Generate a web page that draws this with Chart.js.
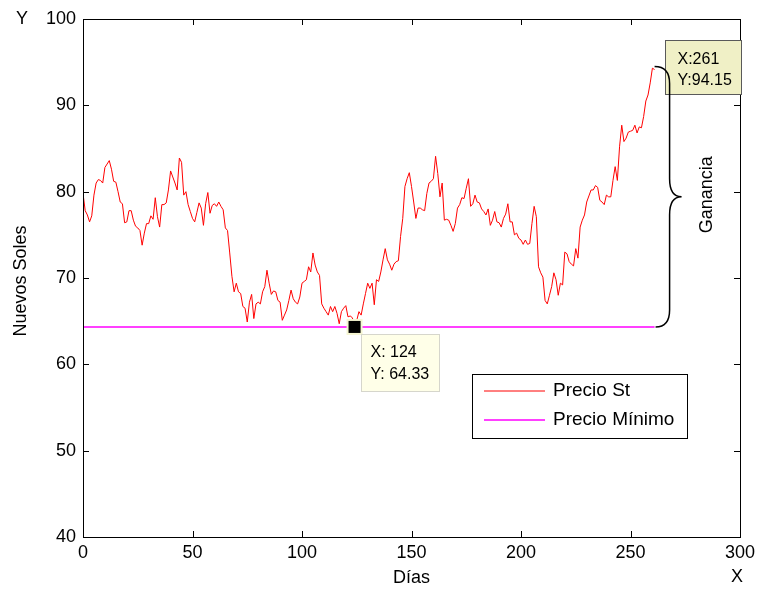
<!DOCTYPE html>
<html>
<head>
<meta charset="utf-8">
<script src="https://cdn.jsdelivr.net/npm/chart.js@4.4.1/dist/chart.umd.min.js"></script>
<style>
  html, body { margin: 0; padding: 0; background: #ffffff; }
  canvas { display: block; }
</style>
</head>
<body>
<canvas id="grafico" width="763" height="590"></canvas>
<script>
// Precio diario de la acción (Nuevos Soles), día 0 .. 261
const precioSt = [
  79.8, 77.8, 77.3, 76.5, 77.2, 79.6, 81.0, 81.4, 81.3, 81.0,
  82.8, 83.2, 83.6, 82.6, 81.2, 81.1, 80.0, 78.8, 78.6, 76.4,
  76.5, 77.8, 77.8, 76.7, 76.0, 75.8, 75.5, 73.8, 75.2, 76.3,
  76.3, 77.2, 76.8, 79.3, 77.1, 75.9, 78.5, 78.5, 78.7, 80.2,
  82.4, 81.7, 81.0, 80.2, 83.9, 83.4, 79.6, 80.0, 78.5, 77.7,
  76.9, 76.5, 77.6, 78.7, 78.1, 76.1, 78.6, 79.9, 77.5, 78.4,
  78.6, 78.3, 78.8, 78.3, 77.9, 75.8, 75.5, 72.9, 70.2, 68.4,
  69.4, 68.4, 68.2, 66.7, 66.5, 64.9, 67.2, 68.1, 65.3, 67.0,
  67.2, 67.0, 68.4, 69.0, 70.9, 69.4, 68.1, 68.5, 68.4, 67.4,
  67.2, 65.1, 65.7, 66.3, 67.4, 68.6, 67.6, 67.2, 67.0, 67.8,
  69.4, 69.6, 69.8, 71.3, 70.7, 72.9, 71.5, 70.7, 70.3, 67.0,
  66.5, 66.1, 65.7, 66.7, 66.1, 66.7, 65.9, 64.7, 66.1, 66.5,
  66.8, 65.5, 65.6, 65.4, 64.33, 65.1, 66.1, 65.7, 67.0, 68.2,
  69.4, 68.8, 69.4, 66.9, 69.8, 69.6, 70.7, 72.1, 73.4, 72.1,
  71.6, 70.9, 71.6, 71.9, 72.0, 74.8, 76.9, 80.6, 81.5, 82.2,
  80.6, 78.8, 76.9, 78.1, 78.1, 77.9, 77.8, 79.8, 81.0, 81.2,
  81.5, 84.1, 82.1, 79.4, 81.0, 76.7, 76.8, 76.7, 76.1, 75.4,
  76.3, 78.1, 78.5, 79.3, 79.2, 80.4, 81.5, 78.3, 78.6, 79.6,
  78.8, 78.7, 78.0, 77.7, 77.3, 78.0, 76.1, 76.7, 77.7, 76.5,
  76.4, 75.9, 76.9, 77.4, 78.6, 76.5, 76.5, 75.0, 75.2, 74.6,
  74.4, 73.9, 74.4, 73.9, 74.0, 76.3, 78.3, 77.1, 71.3, 70.6,
  70.1, 67.4, 67.0, 68.0, 69.0, 70.6, 69.8, 68.0, 69.4, 69.2,
  73.0, 72.8, 71.9, 71.6, 71.4, 73.4, 72.3, 75.9, 76.7, 77.3,
  78.8, 79.5, 80.2, 80.2, 80.7, 80.5, 79.0, 78.8, 78.5, 79.6,
  79.4, 79.4, 81.3, 82.9, 81.3, 85.2, 87.7, 85.8, 86.2, 86.9,
  87.0, 87.1, 87.7, 86.8, 87.5, 87.4, 88.7, 90.5, 91.2, 92.6,
  94.3, 94.15
];

const xTicks = [0, 50, 100, 150, 200, 250, 300];
const yTicks = [40, 50, 60, 70, 80, 90, 100];
const nombresSerie = ['Precio St', 'Precio Mínimo'];
const coloresSerie = ['#ff0000', '#ff00ff'];

const FUENTE = '"Liberation Sans", Arial, Helvetica, sans-serif';

// Día y valor del mínimo, y del último día (fin de la ganancia)
const dias = precioSt.map((_, i) => i);
const precioMin = Math.min(...precioSt);
const diaMin = precioSt.indexOf(precioMin);
const diaFin = dias[dias.length - 1];
const precioFin = precioSt[precioSt.length - 1];

const serieSt = dias.map((d, i) => ({ x: d, y: precioSt[i] }));
const serieMin = [{ x: dias[0], y: precioMin }, { x: diaFin, y: precioMin }];

function texto(ctx, str, x, y, size, align, rot) {
  ctx.save();
  ctx.font = size + 'px ' + FUENTE;
  ctx.fillStyle = '#000';
  ctx.textAlign = align || 'left';
  ctx.textBaseline = 'middle';
  ctx.translate(x, y);
  if (rot) ctx.rotate(rot);
  ctx.fillText(str, 0, 0);
  ctx.restore();
}

const anotaciones = {
  id: 'anotaciones',
  afterDatasetsDraw(chart) {
    const { ctx, chartArea: a, scales: { x, y } } = chart;
    ctx.save();

    // Marco de ejes con marcas hacia adentro
    ctx.strokeStyle = '#000';
    ctx.lineWidth = 1;
    ctx.strokeRect(a.left + 0.5, a.top + 0.5, a.right - a.left, a.bottom - a.top);
    ctx.beginPath();
    xTicks.forEach(v => {
      const px = Math.round(x.getPixelForValue(v)) + 0.5;
      ctx.moveTo(px, a.bottom); ctx.lineTo(px, a.bottom - 6);
      ctx.moveTo(px, a.top); ctx.lineTo(px, a.top + 6);
    });
    yTicks.forEach(v => {
      const py = Math.round(y.getPixelForValue(v)) + 0.5;
      ctx.moveTo(a.left, py); ctx.lineTo(a.left + 6, py);
      ctx.moveTo(a.right, py); ctx.lineTo(a.right - 6, py);
    });
    ctx.stroke();

    // Marcador del mínimo
    const mx = x.getPixelForValue(diaMin);
    const my = y.getPixelForValue(precioMin);
    ctx.fillStyle = '#f6f6d2';
    ctx.fillRect(mx - 8, my - 8, 16, 16);
    ctx.fillStyle = '#000';
    ctx.fillRect(mx - 6, my - 6, 12, 12);

    // Cuadro de datos del mínimo
    const b1x = Math.round(mx + 6) + 0.5, b1y = Math.round(my + 7) + 0.5;
    ctx.fillStyle = '#ffffe8';
    ctx.fillRect(b1x, b1y, 78, 57);
    ctx.strokeStyle = '#d6d6cc';
    ctx.strokeRect(b1x, b1y, 78, 57);
    texto(ctx, 'X: ' + diaMin, b1x + 9, b1y + 18, 16);
    texto(ctx, 'Y: ' + precioMin.toFixed(2), b1x + 9, b1y + 40, 16);

    // Cuadro de datos del último día
    const fx = x.getPixelForValue(diaFin);
    const fy = y.getPixelForValue(precioFin);
    const b2x = Math.round(fx + 10) + 0.5, b2y = Math.round(fy - 30) + 0.5;
    ctx.fillStyle = '#f0f0c6';
    ctx.fillRect(b2x, b2y, 76, 54);
    ctx.strokeStyle = '#5a5a5a';
    ctx.strokeRect(b2x, b2y, 76, 54);
    texto(ctx, 'X:' + diaFin, b2x + 12, b2y + 19, 16);
    texto(ctx, 'Y:' + precioFin.toFixed(2), b2x + 12, b2y + 40, 16);

    // Llave de la ganancia
    const yT = fy - 3, yB = my, yM = (yT + yB) / 2;
    const xv = fx + 15, xt = fx + 27;
    ctx.strokeStyle = '#000';
    ctx.lineWidth = 1.5;
    ctx.beginPath();
    ctx.moveTo(fx, yT);
    ctx.quadraticCurveTo(xv, yT, xv, yT + 17);
    ctx.lineTo(xv, yM - 18);
    ctx.quadraticCurveTo(xv, yM, xt, yM);
    ctx.quadraticCurveTo(xv, yM, xv, yM + 18);
    ctx.lineTo(xv, yB - 17);
    ctx.quadraticCurveTo(xv, yB, fx + 1, yB);
    ctx.stroke();
    texto(ctx, 'Ganancia', fx + 52, yM - 2, 18, 'center', -Math.PI / 2);

    // Leyenda
    const lx = a.right - 268, ly = 374;
    ctx.fillStyle = '#fff';
    ctx.fillRect(lx + 0.5, ly + 0.5, 215, 64);
    ctx.strokeStyle = '#000';
    ctx.lineWidth = 1;
    ctx.strokeRect(lx + 0.5, ly + 0.5, 215, 64);
    chart.data.datasets.forEach((ds, i) => {
      const yy = ly + 17 + i * 29;
      ctx.strokeStyle = ds.borderColor;
      ctx.lineWidth = ds.borderWidth;
      ctx.beginPath();
      ctx.moveTo(lx + 12, yy); ctx.lineTo(lx + 73, yy);
      ctx.stroke();
      texto(ctx, ds.label, lx + 81, yy, 19);
    });

    // Títulos de ejes
    texto(ctx, 'Días', (a.left + a.right) / 2, 578, 18, 'center');
    texto(ctx, 'X', a.right - 3, 577, 18, 'center');
    texto(ctx, 'Nuevos Soles', 21, (a.top + a.bottom) / 2 + 3, 18, 'center', -Math.PI / 2);
    texto(ctx, 'Y', 22, 19, 18, 'center');

    ctx.restore();
  }
};

Chart.defaults.font.family = FUENTE;
Chart.defaults.color = '#000';

new Chart(document.getElementById('grafico'), {
  type: 'line',
  data: {
    datasets: [
      { label: nombresSerie[0], data: serieSt, borderColor: coloresSerie[0], borderWidth: 1,
        pointRadius: 0, tension: 0, fill: false },
      { label: nombresSerie[1], data: serieMin, borderColor: coloresSerie[1], borderWidth: 1.5,
        pointRadius: 0, tension: 0, fill: false }
    ]
  },
  options: {
    responsive: false,
    animation: false,
    events: [],
    layout: { padding: { left: 0, right: 23, top: 19, bottom: 0 } },
    plugins: { legend: { display: false }, tooltip: { enabled: false } },
    scales: {
      x: {
        type: 'linear',
        min: xTicks[0], max: xTicks[xTicks.length - 1],
        afterBuildTicks: s => { s.ticks = xTicks.map(v => ({ value: v })); },
        afterFit: s => { s.height = 53; },
        grid: { display: false, drawTicks: false },
        border: { display: false },
        ticks: { font: { size: 18 }, padding: 5, maxRotation: 0, color: '#000' }
      },
      y: {
        type: 'linear',
        min: yTicks[0], max: yTicks[yTicks.length - 1],
        afterBuildTicks: s => { s.ticks = yTicks.map(v => ({ value: v })); },
        afterFit: s => { s.width = 83; },
        grid: { display: false, drawTicks: false },
        border: { display: false },
        ticks: { font: { size: 18 }, padding: 7, color: '#000' }
      }
    }
  },
  plugins: [anotaciones]
});
</script>
</body>
</html>
